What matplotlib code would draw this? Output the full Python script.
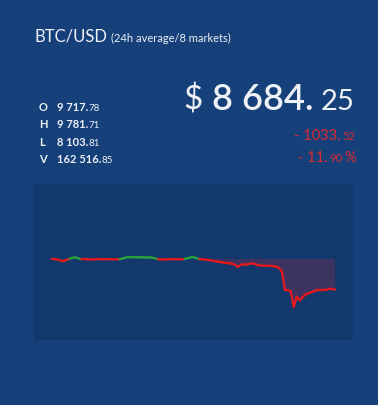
import numpy as np
import matplotlib
matplotlib.use("Agg")
import matplotlib.pyplot as plt
from matplotlib.collections import LineCollection

# 24h price, one point per 15 minutes
hours = np.arange(97) * 0.25
prices = [
    9717.8, 9711, 9697, 9667, 9640, 9684, 9725, 9759, 9769, 9738,
    9708, 9718, 9704, 9711, 9697, 9708, 9718, 9701, 9711, 9704,
    9714, 9701, 9708, 9711, 9731, 9765, 9775, 9781.7, 9772, 9778,
    9769, 9775, 9765, 9772, 9762, 9738, 9708, 9701, 9711, 9697,
    9708, 9714, 9704, 9711, 9701, 9718, 9742, 9769, 9778, 9745,
    9711, 9704, 9697, 9684, 9670, 9650, 9633, 9616, 9602, 9582,
    9572, 9561, 9521, 9453, 9514, 9538, 9528, 9555, 9565, 9541,
    9507, 9487, 9500, 9480, 9487, 9473, 9460, 9419, 9293, 8681,
    8664, 8630, 8103.81, 8443, 8325, 8427, 8528, 8562, 8596, 8630,
    8681, 8664, 8681, 8671, 8715, 8705, 8684.25,
]
open_price = 9717.78

ohlv_labels = ["O", "H", "L", "V"]
ohlv_main = ["9 717.", "9 781.", "8 103.", "162 516."]
ohlv_dec = ["78", "71", "81", "85"]

W, H = 378, 406
BG = "#16407a"
PANEL = "#13396c"
WHITE = "#eef1f6"
RED = "#dc2a30"
LINE_RED = "#e8181c"
LINE_GREEN = "#2aa53a"
FONT = "Lato"

fig = plt.figure(figsize=(W / 100, H / 100), dpi=100, facecolor=BG)
renderer = fig.canvas.get_renderer()


def text_run(parts, x, y, ha="left"):
    # parts: (string, size, weight, color, gap after in px); y is baseline in px from top
    placed = []
    cur = x
    for s, size, weight, color, gap in parts:
        t = fig.text(cur / W, 1 - y / H, s, fontsize=size, fontweight=weight,
                     color=color, family=FONT, va="baseline", ha="left")
        placed.append(t)
        cur += t.get_window_extent(renderer).width + gap
    if ha == "right":
        shift = (cur - x) / W
        for t in placed:
            px, py = t.get_position()
            t.set_position((px - shift, py))


# title
text_run([("BTC/USD", 12, "normal", WHITE, 3),
          ("(24h average/8 markets)", 8, "normal", WHITE, 0)], 35, 41.5)

# big price
text_run([("$", 24, "normal", WHITE, 9),
          ("8 684.", 26, "semibold", WHITE, 7),
          ("25", 21, "normal", WHITE, 0)], 354, 109.5, ha="right")

# change
text_run([("- 1033.", 10.5, "normal", RED, 2),
          ("52", 8, "normal", RED, 0)], 355, 140, ha="right")
text_run([("- 11.", 10.5, "normal", RED, 2),
          ("90", 8, "normal", RED, 2),
          ("%", 10.5, "normal", RED, 0)], 356, 161.5, ha="right")

# OHLV block
for k, (lab, main, dec) in enumerate(zip(ohlv_labels, ohlv_main, ohlv_dec)):
    yb = 111.3 + k * 17.2
    text_run([(lab, 8, "bold", WHITE, 0)], 39, yb)
    text_run([(main, 8, "bold", WHITE, 0.5),
              (dec, 7, "normal", WHITE, 0)], 57, yb)

# chart panel
ax = fig.add_axes([34 / W, (H - 341) / H, 319 / W, 156 / H])
ax.set_facecolor(PANEL)
for sp in ax.spines.values():
    sp.set_visible(False)
ax.set_xticks([])
ax.set_yticks([])

p = np.array(prices)
ax.fill_between(hours, p, open_price, where=p < open_price, interpolate=True,
                color="#3d3360", linewidth=0)

pts = np.column_stack([hours, p])
segs = np.stack([pts[:-1], pts[1:]], axis=1)
mid = (p[:-1] + p[1:]) / 2
colors = [LINE_GREEN if m > open_price else LINE_RED for m in mid]
ax.add_collection(LineCollection(segs, colors=colors, linewidths=1.6,
                                 capstyle="round", joinstyle="round"))

ax.set_xlim(-1.5, 25.52)
ax.set_ylim(6990, 12240)

fig.savefig("out.png", dpi=100, facecolor=BG)
